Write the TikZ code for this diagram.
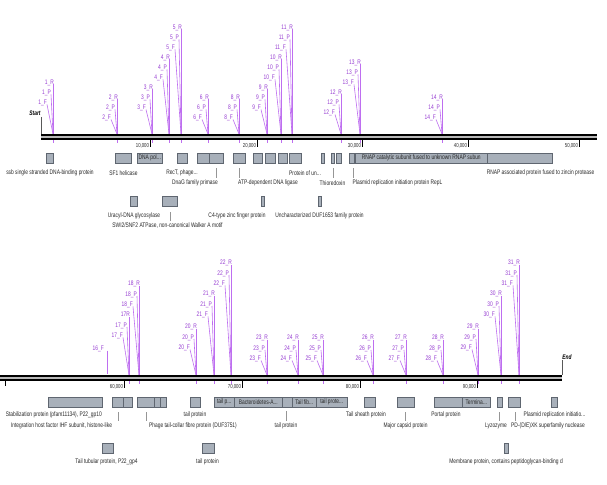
\documentclass[tikz,border=0pt]{standalone}
\usepackage{fontspec}
\setmainfont{Liberation Sans}[FakeStretch=0.74]
\definecolor{pline}{RGB}{190,110,240}
\definecolor{ptext}{RGB}{150,60,210}
\definecolor{boxfill}{RGB}{168,176,186}
\definecolor{boxdraw}{RGB}{95,102,112}
\definecolor{labtext}{RGB}{40,40,40}
\definecolor{leader}{RGB}{150,150,150}
\newcommand{\pgrp}[6]{%
  \coordinate (t#1) at (#2,{#4-3});
  \coordinate (b#1) at (#2,{#4+6});
  \node[plab] (r#1) at ({#2+1},{#3+2.5}) {#5};
  \node[plab] (p#1) at ({#2-2},{#3+#6+2.5}) {#1\_P};
  \node[plab] (f#1) at ({#2-6},{#3+2*#6+2.5}) {#1\_F};
  \draw[pln] (r#1.base east -| b#1) -- (b#1);
  \draw[pln] (p#1.base east) -- (t#1);
  \draw[pln] (f#1.base east) -- (t#1);
}
\newcommand{\trk}[3]{%
  \fill[gray!55] (#1,{#3-2.5}) rectangle (#2,{#3+2.5});
  \draw[black,line width=1.9pt] (#1,{#3-2.2}) -- (#2,{#3-2.2});
  \draw[black,line width=1.9pt] (#1,{#3+2.2}) -- (#2,{#3+2.2});
}
\newcommand{\fb}[5]{%
  \node[fbx,minimum width={#3-#2}] (#1) at (#2,#4) {#5};
}
\newcommand{\tk}[4]{%
  \coordinate (#1a) at (#2,{#3+3});
  \coordinate (#1b) at (#2,{#3+10});
  \draw[tck] (#1a) -- (#1b);
  \node[tlab] (#1t) at ({#2-0.8},{#3+10}) {#4};
}
\newcommand{\ldrl}[4]{%
  \coordinate (#1a) at (#2,#3);
  \coordinate (#1b) at (#2,#4);
  \draw[ldr] (#1a) -- (#1b);
}
\begin{document}
\begin{tikzpicture}[x=1pt,y=-1pt,
  plab/.style={text=ptext,font=\fontsize{6.6}{7}\selectfont,inner sep=0pt,anchor=base east},
  pln/.style={draw=pline,line width=0.6pt},
  fbx/.style={draw=boxdraw,fill=boxfill,line width=0.5pt,minimum height=10pt,inner sep=0pt,anchor=north west,font=\fontsize{6.6}{7}\selectfont,text=labtext},
  flab/.style={text=labtext,font=\fontsize{6.6}{7}\selectfont,inner sep=0pt},
  ldr/.style={draw=leader,line width=0.4pt},
  tlab/.style={text=labtext,font=\fontsize{5.8}{6}\selectfont,inner sep=0pt,anchor=base east},
  tck/.style={draw=black,line width=0.5pt},
  endlab/.style={text=black,font=\bfseries\itshape\fontsize{6.6}{7}\selectfont,inner sep=0pt},
]
\useasboundingbox (0,0) rectangle (607,484);
\fill[white] (0,0) rectangle (607,484);
\clip (0,0) rectangle (607,484);

% ---------- top track primers ----------
\pgrp{1}{53}{82}{137}{1\_R}{10}
\pgrp{2}{117}{97}{137}{2\_R}{10}
\pgrp{3}{152}{87}{137}{3\_R}{10}
\pgrp{4}{169}{57}{137}{4\_R}{10}
\pgrp{5}{181}{27}{137}{5\_R}{10}
\pgrp{6}{208}{97}{137}{6\_R}{10}
\pgrp{8}{239}{97}{137}{8\_R}{10}
\pgrp{9}{267}{87}{137}{9\_R}{10}
\pgrp{10}{281}{57}{137}{10\_R}{10}
\pgrp{11}{292}{27}{137}{11\_R}{10}
\pgrp{12}{341}{92}{137}{12\_R}{10}
\pgrp{13}{360}{62}{137}{13\_R}{10}
\pgrp{14}{442}{97}{137}{14\_R}{10}

% ---------- bottom track primers ----------
\node[plab] (f16) at (104,350.5) {16\_F};
\coordinate (t16) at (107,374);
\draw[pln] (f16.base -| t16) -- (t16);
\pgrp{17}{129}{314}{378}{17R}{10.5}
\pgrp{18}{139}{283}{378}{18\_R}{10.5}
\pgrp{20}{196}{326}{378}{20\_R}{10.5}
\pgrp{21}{214}{293}{378}{21\_R}{10.5}
\pgrp{22}{231}{262}{378}{22\_R}{10.5}
\pgrp{23}{267}{337}{378}{23\_R}{10.5}
\pgrp{24}{298}{337}{378}{24\_R}{10.5}
\pgrp{25}{323}{337}{378}{25\_R}{10.5}
\pgrp{26}{373}{337}{378}{26\_R}{10.5}
\pgrp{27}{406}{337}{378}{27\_R}{10.5}
\pgrp{28}{443}{337}{378}{28\_R}{10.5}
\pgrp{29}{478}{326}{378}{29\_R}{10.5}
\pgrp{30}{501}{293}{378}{30\_R}{10.5}
\pgrp{31}{519}{262}{378}{31\_R}{10.5}

% ---------- tracks ----------
\trk{41}{597}{137}
\trk{-2}{562}{378}

\node[endlab] (start) at (35,113) {Start};
\coordinate (st1) at (41,117);
\coordinate (st2) at (41,134);
\draw[gray!70!black,line width=0.5pt] (st1) -- (st2);
\node[endlab] (end) at (567,357) {End};
\coordinate (en1) at (562,360);
\coordinate (en2) at (562,375);
\draw[gray!70!black,line width=0.5pt] (en1) -- (en2);
\coordinate (lt1) at (5,381);
\coordinate (lt2) at (5,386);
\draw[tck] (lt1) -- (lt2);

% ---------- scale ticks ----------
\tk{k10}{150}{137}{10,000}
\tk{k20}{257}{137}{20,000}
\tk{k30}{362}{137}{30,000}
\tk{k40}{468}{137}{40,000}
\tk{k50}{579}{137}{50,000}
\tk{k60}{124}{378}{60,000}
\tk{k70}{242}{378}{70,000}
\tk{k80}{360}{378}{80,000}
\tk{k90}{477}{378}{90,000}

% ---------- top features ----------
\fb{a1}{46}{53}{153}{}
\fb{a2}{115}{131}{153}{}
\fb{a3}{137}{162}{153}{DNA pol...}
\fb{a4}{177}{187}{153}{}
\fb{a5}{197}{209}{153}{}
\fb{a6}{209}{223}{153}{}
\fb{a7}{233}{245}{153}{}
\fb{a8}{253}{262}{153}{}
\fb{a9}{265}{275}{153}{}
\fb{a10}{278}{287}{153}{}
\fb{a11}{289}{301}{153}{}
\fb{a12}{321}{323.5}{153}{}
\fb{a13}{331}{334}{153}{}
\fb{a14}{336}{341}{153}{}
\fb{a15}{349}{354}{153}{}
\fb{a16}{355}{487}{153}{RNAP catalytic subunit fused to unknown RNAP subun}
\fb{a17}{487}{552}{153}{}

\node[flab] (la1) at (50,173) {ssb single stranded DNA-binding protein};
\node[flab] (la2) at (123.5,173) {SF1 helicase};
\node[flab] (la3) at (182,173) {RecT, phage...};
\node[flab] (la4) at (195,183) {DnaG family primase};
\node[flab] (la5) at (268,183) {ATP-dependent DNA ligase};
\node[flab] (la6) at (305,173) {Protein of un...};
\node[flab] (la7) at (332.5,183) {Thioredoxin};
\node[flab] (la8) at (397.5,183) {Plasmid replication initiation protein RepL};
\node[flab] (la9) at (540.5,173) {RNAP associated protein fused to zincin protease};
\ldrl{qa1}{216}{168}{177.5}
\ldrl{qa2}{239}{168}{177.5}
\ldrl{qa3}{333}{168}{177.5}
\ldrl{qa4}{353}{168}{177.5}

\fb{b1}{130}{137}{196}{}
\fb{b2}{162}{177}{196}{}
\fb{b3}{261}{264}{196}{}
\fb{b4}{318}{321}{196}{}
\node[flab] (lb1) at (134,216) {Uracyl-DNA glycosylase};
\node[flab] (lb2) at (167.5,226) {SWI2/SNF2 ATPase, non-canonical Walker A motif};
\node[flab] (lb3) at (237,216) {C4-type zinc finger protein};
\node[flab] (lb4) at (319.5,216) {Uncharacterized DUF1653 family protein};
\ldrl{qb1}{170}{212}{220.5}

% ---------- bottom features ----------
\fb{c1}{48}{102}{397}{}
\fb{c2}{112}{123}{397}{}
\fb{c3}{123}{132}{397}{}
\fb{c4}{137}{154}{397}{}
\fb{c5}{154}{160}{397}{}
\fb{c6}{160}{166}{397}{}
\fb{c7}{190}{200}{397}{}
\fb{c8}{214}{234}{397}{tail p...}
\fb{c9}{234}{282}{397}{Bacteroidetes-A...}
\fb{c10}{282}{292}{397}{}
\fb{c11}{292}{316}{397}{Tail fib...}
\fb{c12}{316}{347}{397}{tail prote...}
\fb{c13}{364}{375}{397}{}
\fb{c14}{397}{414}{397}{}
\fb{c15}{434}{462}{397}{}
\fb{c16}{462}{490}{397}{Termina...}
\fb{c17}{497}{502}{397}{}
\fb{c18}{508}{520}{397}{}
\fb{c19}{551}{557}{397}{}

\node[flab,anchor=east] (lc1) at (102,415) {Stabilization protein (pfam11134), P22\_gp10};
\node[flab] (lc2) at (61.5,426) {Integration host factor IHF subunit, histone-like};
\node[flab] (lc3) at (195,415) {tail protein};
\node[flab] (lc4) at (193,426) {Phage tail-collar fibre protein (DUF3751)};
\node[flab] (lc5) at (286,426) {tail protein};
\node[flab] (lc6) at (366,415) {Tail sheath protein};
\node[flab] (lc7) at (405.5,426) {Major capsid protein};
\node[flab] (lc8) at (446,415) {Portal protein};
\node[flab] (lc9) at (496,426) {Lyzozyme};
\node[flab] (lc10) at (548,426) {PD-(D/E)XK superfamily nuclease};
\node[flab] (lc11) at (554.5,415) {Plasmid replication initiatio...};
\ldrl{qc1}{118}{412}{420.5}
\ldrl{qc2}{146}{412}{420.5}
\ldrl{qc3}{286}{411}{420.5}
\ldrl{qc4}{405}{412}{420.5}
\ldrl{qc5}{499}{412}{420.5}
\ldrl{qc6}{515}{412}{420.5}

\fb{d1}{102}{113}{443}{}
\fb{d2}{202}{214}{443}{}
\fb{d3}{504}{508}{443}{}
\node[flab] (ld1) at (106.5,462) {Tail tubular protein, P22\_gp4};
\node[flab] (ld2) at (207.5,462) {tail protein};
\node[flab] (ld3) at (506,462) {Membrane protein, contains peptidoglycan-binding d};
\end{tikzpicture}
\end{document}
